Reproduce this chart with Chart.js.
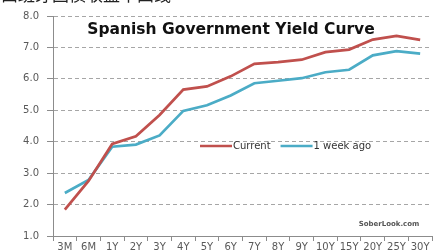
<!DOCTYPE html>
<html>
<head>
<meta charset="utf-8">
<script src="https://cdn.jsdelivr.net/npm/chart.js@4/dist/chart.umd.min.js"></script>
<style>
    html, body { margin: 0; padding: 0; background: #fff; }
    #wrap { width: 437px; height: 252px; }
</style>
</head>
<body>
<div id="wrap"><canvas id="yieldChart" width="437" height="252"></canvas></div>
<script>
// Spanish government yield curve
const maturities = ['3M', '6M', '1Y', '2Y', '3Y', '4Y', '5Y', '6Y', '7Y', '8Y', '9Y', '10Y', '15Y', '20Y', '25Y', '30Y'];
const currentYields = [1.84, 2.75, 3.93, 4.17, 4.85, 5.66, 5.76, 6.08, 6.48, 6.53, 6.61, 6.85, 6.93, 7.25, 7.37, 7.24];
const weekAgoYields = [2.37, 2.78, 3.84, 3.91, 4.2, 4.98, 5.16, 5.47, 5.86, 5.94, 6.02, 6.21, 6.29, 6.75, 6.88, 6.8];
const yTicks = [1, 2, 3, 4, 5, 6, 7, 8];

const chartTitle = 'Spanish Government Yield Curve';
const pageHeading = '西班牙国债收益率曲线';
const sourceNote = 'SoberLook.com';

const RED = '#C0504D';
const BLUE = '#4BACC6';
const GREY = '#8c8c8c';
const LABEL = '#595959';

// title, legend and source note live inside the plot area
const overlayPlugin = {
    id: 'overlay',
    afterDraw(chart) {
        const ctx = chart.ctx;
        ctx.save();

        // heading of the page, cropped at the top edge
        ctx.fillStyle = '#222';
        ctx.font = '17px "Noto Sans CJK SC"';
        ctx.textAlign = 'left';
        ctx.textBaseline = 'bottom';
        ctx.fillText(pageHeading, 1, 3);

        ctx.fillStyle = '#111';
        ctx.font = 'bold 15.5px "DejaVu Sans"';
        ctx.textAlign = 'center';
        ctx.textBaseline = 'middle';
        ctx.fillText(chartTitle, 231, 30);

        // legend
        ctx.font = '10px "DejaVu Sans"';
        ctx.textAlign = 'left';
        let x = 200;
        const y = 146;
        chart.data.datasets.forEach(ds => {
            ctx.strokeStyle = ds.borderColor;
            ctx.lineWidth = 2.5;
            ctx.beginPath();
            ctx.moveTo(x, y);
            ctx.lineTo(x + 32, y);
            ctx.stroke();
            ctx.fillStyle = '#333';
            ctx.fillText(ds.label, x + 33, y);
            x += 33 + ctx.measureText(ds.label).width + 10;
        });

        ctx.fillStyle = '#555';
        ctx.font = 'bold 7px "DejaVu Sans"';
        ctx.textAlign = 'center';
        ctx.fillText(sourceNote, 389, 224);
        ctx.restore();
    }
};

new Chart(document.getElementById('yieldChart'), {
    type: 'line',
    data: {
        labels: maturities,
        datasets: [{
            label: 'Current',
            data: currentYields,
            borderColor: RED,
            backgroundColor: RED,
            borderWidth: 2.75,
            pointRadius: 0,
            tension: 0
        }, {
            label: '1 week ago',
            data: weekAgoYields,
            borderColor: BLUE,
            backgroundColor: BLUE,
            borderWidth: 2.75,
            pointRadius: 0,
            tension: 0
        }]
    },
    options: {
        responsive: false,
        animation: false,
        layout: { padding: { top: 16, right: 5, left: 0, bottom: 0 } },
        plugins: {
            legend: { display: false },
            tooltip: { enabled: false }
        },
        scales: {
            x: {
                offset: true,
                grid: {
                    offset: true,
                    drawOnChartArea: false,
                    tickLength: 5,
                    tickColor: GREY
                },
                border: { color: GREY, width: 1 },
                ticks: {
                    color: LABEL,
                    font: { family: 'DejaVu Sans', size: 10 },
                    padding: 0,
                    maxRotation: 0,
                    autoSkip: false
                },
                afterFit(scale) { scale.height = 16; }
            },
            y: {
                min: yTicks[0],
                max: yTicks[yTicks.length - 1],
                afterBuildTicks(scale) {
                    scale.ticks = yTicks.map(v => ({ value: v }));
                },
                grid: {
                    color: '#a6a6a6',
                    tickLength: 6,
                    tickColor: GREY
                },
                border: { color: GREY, width: 1, dash: [4, 3] },
                ticks: {
                    color: LABEL,
                    font: { family: 'DejaVu Sans', size: 10 },
                    padding: 8,
                    callback: v => v.toFixed(1)
                },
                afterFit(scale) { scale.width = 53; }
            }
        }
    },
    plugins: [overlayPlugin]
});
</script>
</body>
</html>
